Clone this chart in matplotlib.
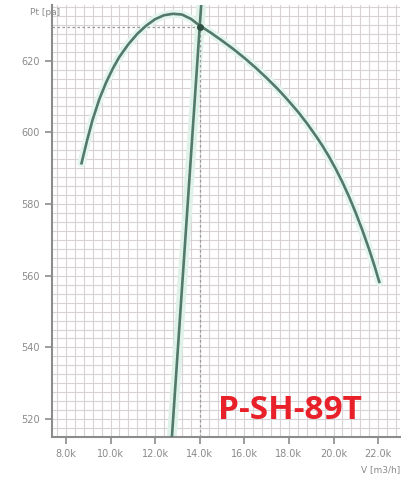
import matplotlib
matplotlib.use("Agg")
import matplotlib.pyplot as plt
from matplotlib.ticker import MultipleLocator, FuncFormatter

# fan curve (V in thousand m3/h, Pt in pa)
fan_v = [8.7, 8.95, 9.2, 9.5, 9.8, 10.1, 10.4, 10.8, 11.2, 11.6, 12.0, 12.4,
         12.8, 13.2, 13.6, 14.0, 14.5, 15.0, 15.5, 16.0, 16.5, 17.0, 17.5,
         17.9, 18.4, 18.8, 19.2, 19.5, 19.8, 20.1, 20.4, 20.7, 21.0, 21.3,
         21.6, 21.85, 22.05]
fan_p = [591.4, 597.8, 603.6, 609.3, 613.9, 617.8, 621.1, 624.6, 627.5, 629.8,
         631.6, 632.7, 633.1, 632.9, 631.7, 629.8, 627.8, 625.6, 623.3, 620.8,
         618.1, 615.2, 612.1, 609.4, 605.8, 602.6, 599.1, 596.3, 593.2, 589.8,
         586.1, 582.0, 577.5, 572.6, 567.3, 562.5, 558.3]

# system curve
sys_v = [12.72, 13.1, 13.55, 14.0, 14.12]
sys_p = [512.0, 546.9, 588.2, 629.5, 640.5]

# operating point
op_v = 14.0
op_p = 629.5

x_ticks = [8, 10, 12, 14, 16, 18, 20, 22]
y_ticks = [520, 540, 560, 580, 600, 620]

line_col = "#52796b"
grid_col = "#d8d2d6"
text_col = "#8a8a8a"

fig = plt.figure(figsize=(4.02, 4.84), dpi=100)
ax = fig.add_axes([0.129, 0.097, 0.866, 0.893])

ax.set_xlim(7.37, 22.98)
ax.set_ylim(515, 635.6)

# grid
ax.xaxis.set_major_locator(plt.FixedLocator(x_ticks))
ax.yaxis.set_major_locator(plt.FixedLocator(y_ticks))
ax.xaxis.set_minor_locator(MultipleLocator(0.4))
ax.yaxis.set_minor_locator(MultipleLocator(2.5))
ax.grid(which="both", color=grid_col, linewidth=0.8)
ax.set_axisbelow(True)

# soft green glow under the curves
ax.plot(fan_v, fan_p, color="#e4f4ee", linewidth=6, solid_capstyle="round", zorder=2)
ax.plot(sys_v, sys_p, color="#dff2ea", linewidth=7, zorder=2)

# operating point guide lines
ax.plot([7.37, op_v], [op_p, op_p], color="#9a9a9a", linewidth=0.9, linestyle=(0, (2, 2)), zorder=3)
ax.plot([op_v, op_v], [515, op_p], color="#9a9a9a", linewidth=0.9, linestyle=(0, (2, 2)), zorder=3)

ax.plot(fan_v, fan_p, color=line_col, linewidth=1.9, zorder=4)
ax.plot(sys_v, sys_p, color=line_col, linewidth=1.9, zorder=4)
ax.plot([op_v], [op_p], "o", color="#2f4f42", markersize=4, zorder=5)

ax.xaxis.set_major_formatter(FuncFormatter(lambda v, pos: "%.1fk" % v))
ax.yaxis.set_major_formatter(FuncFormatter(lambda v, pos: "%d" % v))

for s in ["top", "right"]:
    ax.spines[s].set_visible(False)
for s in ["left", "bottom"]:
    ax.spines[s].set_color("#8c8c8c")
    ax.spines[s].set_linewidth(1.5)

ax.tick_params(which="minor", length=0)
ax.tick_params(which="major", direction="out", length=5, width=1.2,
               color="#8c8c8c", labelcolor=text_col, labelsize=7)

fig.text(0.075, 0.975, "Pt [pa]", color=text_col, fontsize=6.5, ha="left", va="center")
fig.text(0.995, 0.03, "V [m3/h]", color=text_col, fontsize=6.5, ha="right", va="center")

fig.text(0.72, 0.152, "P-SH-89T", color="#e8202a", fontsize=24, fontweight="bold",
         family="Open Sans", ha="center", va="center")

fig.savefig("out.png", dpi=100)
